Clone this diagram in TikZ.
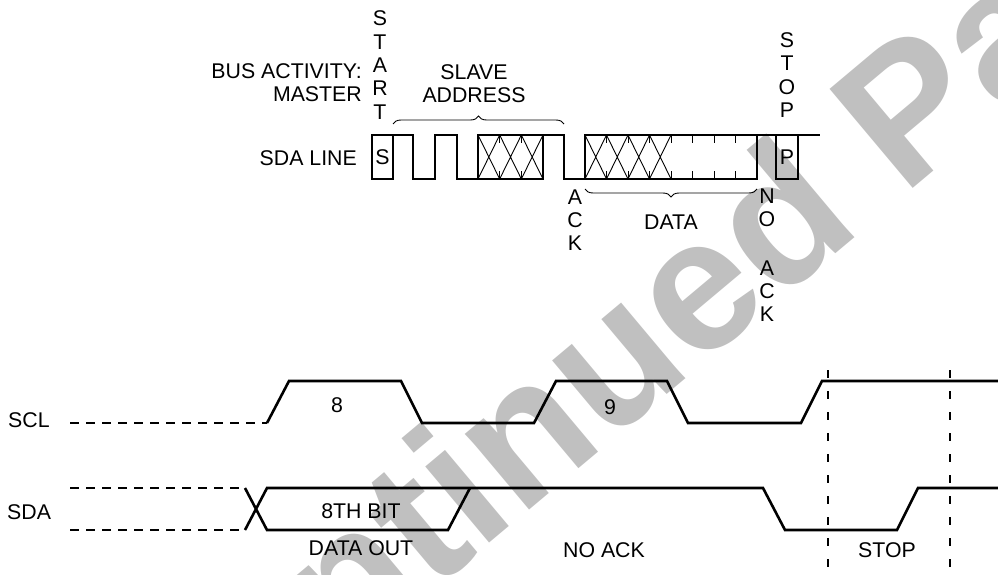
\documentclass[tikz,border=0pt]{standalone}
\usepackage{fontspec}
\setmainfont{Liberation Sans}
\usetikzlibrary{decorations.pathreplacing}
\definecolor{wmgray}{RGB}{192,192,192}

\tikzset{
	wave/.style={line width=2.6pt, line join=miter},
	hatch/.style={line width=0.9pt},
	lead/.style={line width=2.6pt, dash pattern=on 9pt off 7pt},
	markline/.style={line width=1.2pt, dash pattern=on 8pt off 13pt},
	stack/.style={align=center, inner sep=0pt},
	bracket/.style={decorate, decoration={brace, amplitude=8pt}, line width=0.9pt},
}

\begin{document}
\begin{tikzpicture}[x=1pt, y=-1pt, font=\fontsize{21.3}{23.3}\selectfont]
	\useasboundingbox (0,0) rectangle (998,575);
	% watermark
	\node[rotate=40, anchor=base, inner sep=0pt, text=wmgray, font=\fontsize{188}{188}\selectfont\bfseries] (wm) at (568,478) {Discontinued Part};

	% labels of the master activity
	\node[anchor=east, align=right, inner sep=0pt] (bus) at (362,83) {BUS ACTIVITY:\\MASTER};
	\node[anchor=east, inner sep=0pt] (sdaline) at (357,158) {SDA LINE};
	\node[stack] (start) at (380,65) {S\\T\\A\\R\\T};
	\node[stack] (slave) at (474,84) {SLAVE\\ADDRESS};
	\node[stack] (stop) at (787,75) {S\\T\\O\\P};
	\node[stack] (ack) at (575,220) {A\\C\\K};
	\node[stack] (no) at (767,208) {N\\O};
	\node[stack] (noack) at (767,291) {A\\C\\K};
	\node[stack] (data) at (671,222) {DATA};

	% start and stop bits
	\draw[wave] (372,135) rectangle (393,179);
	\node (s) at (382.5,157) {S};
	\draw[wave] (776,135) rectangle (798,179);
	\node (p) at (787,157) {P};

	% sda line
	\draw[wave] (393,135) -- (413,135) -- (413,179) -- (435,179) -- (435,135) -- (457,135) -- (457,179) -- (478,179) -- (478,135) -- (564,135) -- (564,179) -- (585,179) -- (585,135) -- (820,135);
	\draw[wave] (478,179) -- (543,179) -- (543,135);
	\draw[wave] (585,179) -- (757,179) -- (757,135);

	% unknown bits
	\foreach \a in {478,499.67,521.33}
		\draw[hatch] (\a,135) -- (\a+21.67,179) (\a,179) -- (\a+21.67,135);
	\foreach \a in {499.67,521.33}
		\draw[hatch] (\a,135) -- (\a,143) (\a,179) -- (\a,171);
	\foreach \i in {0,...,3}
		\draw[hatch] (585+21.5*\i,135) -- (606.5+21.5*\i,179) (585+21.5*\i,179) -- (606.5+21.5*\i,135);
	\foreach \i in {1,...,7}
		\draw[hatch] (585+21.5*\i,135) -- (585+21.5*\i,143) (585+21.5*\i,179) -- (585+21.5*\i,171);

	% braces
	\draw[bracket] (393,124) -- (564,124);
	\draw[bracket] (757,189) -- (585,189);

	% scl and sda
	\node[anchor=west, inner sep=0pt] (scl) at (8,420) {SCL};
	\node[anchor=west, inner sep=0pt] (sda) at (7,512) {SDA};
	\draw[lead] (70,423) -- (267,423);
	\draw[lead] (70,488) -- (245,488);
	\draw[lead] (70,530) -- (245,530);
	\draw[wave] (267,423) -- (289,381) -- (401,381) -- (422,423) -- (534,423) -- (556,381) -- (667,381) -- (688,423) -- (801,423) -- (822,381) -- (998,381);
	\draw[wave] (245,488) -- (267,530) -- (448,530) -- (470,488);
	\draw[wave] (245,530) -- (267,488) -- (763,488) -- (785,530) -- (897,530) -- (918,488) -- (998,488);
	\draw[markline] (828,370) -- (828,575);
	\draw[markline] (950,370) -- (950,575);

	\node (b8) at (337,405) {8};
	\node (b9) at (610,407) {9};
	\node (bit) at (361,511) {8TH BIT};
	\node (dout) at (361,548) {DATA OUT};
	\node (nack) at (604,550) {NO ACK};
	\node (stp) at (887,550) {STOP};
\end{tikzpicture}
\end{document}
